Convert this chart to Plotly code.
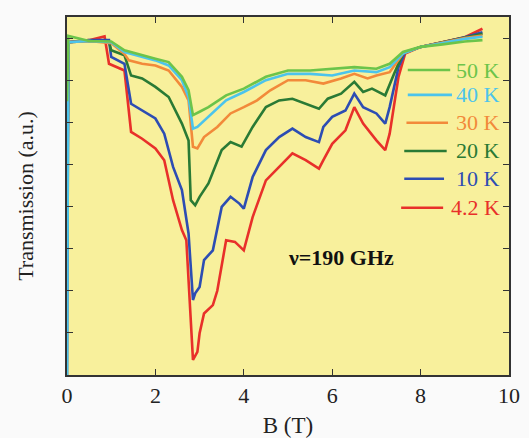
import plotly.graph_objects as go

# ---- data ----
x_42 = [0, 0.03, 0.5, 0.85, 0.95, 1.3, 1.45, 1.7, 2.0, 2.2, 2.4, 2.6, 2.7, 2.8, 2.85, 2.95, 3.0, 3.1, 3.3, 3.4, 3.6, 3.8, 4.0, 4.2, 4.5, 4.8, 5.1, 5.4, 5.7, 5.8, 6.0, 6.3, 6.5, 6.7, 7.0, 7.2, 7.3, 7.5, 7.65, 8.0, 8.5, 9.0, 9.4]
y_42 = [2.5, 7.9, 7.95, 8.04, 7.39, 7.23, 5.77, 5.61, 5.38, 5.1, 4.15, 3.44, 3.2, 1.38, 0.36, 0.55, 0.99, 1.46, 1.66, 2.0, 3.2, 3.16, 2.96, 3.75, 4.62, 4.94, 5.26, 5.1, 4.9, 5.1, 5.49, 5.81, 6.36, 5.97, 5.57, 5.34, 5.73, 7.08, 7.63, 7.79, 7.9, 8.02, 8.22]

x_10 = [0, 0.03, 0.5, 0.95, 1.0, 1.3, 1.45, 1.7, 2.0, 2.2, 2.4, 2.6, 2.75, 2.85, 2.9, 3.0, 3.1, 3.3, 3.5, 3.7, 3.9, 4.0, 4.2, 4.5, 4.8, 5.1, 5.4, 5.7, 5.8, 6.0, 6.3, 6.5, 6.7, 7.0, 7.2, 7.3, 7.5, 7.65, 8.0, 8.5, 9.0, 9.4]
y_10 = [0.0, 7.9, 7.95, 7.95, 7.55, 7.39, 6.44, 6.28, 6.09, 5.73, 4.94, 4.39, 3.36, 1.78, 1.94, 2.09, 2.73, 2.96, 3.99, 4.23, 4.07, 3.95, 4.70, 5.34, 5.65, 5.85, 5.65, 5.53, 5.89, 6.13, 6.28, 6.68, 6.36, 6.21, 5.97, 6.36, 7.31, 7.67, 7.79, 7.9, 8.02, 8.14]

x_20 = [0, 0.03, 0.5, 0.95, 1.0, 1.3, 1.45, 1.7, 2.0, 2.3, 2.6, 2.75, 2.8, 2.9, 3.0, 3.2, 3.5, 3.7, 3.95, 4.2, 4.5, 4.8, 5.1, 5.4, 5.7, 5.9, 6.2, 6.5, 6.7, 6.9, 7.2, 7.4, 7.6, 8.0, 8.5, 9.0, 9.4]
y_20 = [3.0, 7.9, 7.93, 7.92, 7.71, 7.59, 7.11, 7.04, 6.84, 6.6, 5.97, 5.57, 4.15, 4.03, 4.23, 4.55, 5.34, 5.53, 5.42, 5.89, 6.36, 6.52, 6.56, 6.44, 6.32, 6.56, 6.68, 6.96, 6.72, 6.8, 6.64, 7.15, 7.63, 7.79, 7.9, 8.0, 8.1]

x_30 = [0, 0.03, 0.5, 1.0, 1.3, 1.4, 1.7, 2.0, 2.3, 2.6, 2.75, 2.85, 2.95, 3.1, 3.4, 3.7, 4.0, 4.3, 4.6, 5.0, 5.4, 5.8, 6.2, 6.5, 6.8, 7.0, 7.3, 7.6, 8.0, 8.5, 9.0, 9.4]
y_30 = [5.0, 7.9, 7.93, 7.88, 7.62, 7.47, 7.39, 7.35, 7.23, 6.84, 6.52, 5.42, 5.38, 5.65, 5.89, 6.21, 6.36, 6.52, 6.76, 7.0, 7.0, 6.92, 7.04, 7.15, 7.04, 7.11, 7.19, 7.63, 7.79, 7.9, 8.0, 8.06]

x_40 = [0, 0.03, 0.5, 1.0, 1.3, 1.7, 2.0, 2.3, 2.6, 2.75, 2.85, 2.95, 3.2, 3.6, 4.0, 4.5, 5.0, 5.5, 6.0, 6.5, 7.0, 7.3, 7.6, 8.0, 8.5, 9.0, 9.4]
y_40 = [0.0, 7.9, 7.93, 7.9, 7.67, 7.55, 7.47, 7.35, 7.0, 6.6, 5.85, 5.89, 6.13, 6.52, 6.72, 7.0, 7.15, 7.15, 7.11, 7.23, 7.19, 7.31, 7.63, 7.79, 7.88, 7.98, 8.03]

x_50 = [0, 0.03, 0.5, 1.0, 1.3, 1.7, 2.0, 2.3, 2.6, 2.75, 2.85, 3.0, 3.2, 3.6, 4.0, 4.5, 5.0, 5.5, 6.0, 6.5, 7.0, 7.3, 7.6, 8.0, 8.5, 9.0, 9.4]
y_50 = [6.5, 8.05, 7.93, 7.92, 7.71, 7.59, 7.51, 7.43, 7.08, 6.76, 6.17, 6.25, 6.36, 6.64, 6.8, 7.08, 7.23, 7.23, 7.27, 7.31, 7.27, 7.39, 7.67, 7.79, 7.85, 7.92, 7.95]

labels = ["4.2 K", "10 K", "20 K", "30 K", "40 K", "50 K"]
colors = ["#e8302a", "#2d4db3", "#2a7a35", "#f28a3a", "#4cc4ec", "#6cc44a"]
series_x = [x_42, x_10, x_20, x_30, x_40, x_50]
series_y = [y_42, y_10, y_20, y_30, y_40, y_50]

x_ticks = [0, 2, 4, 6, 8, 10]
y_ticks = [0, 1, 2, 3, 4, 5, 6, 7, 8]

# legend key layout (data coords): label y-position
legend_y = [3.97, 4.66, 5.32, 5.99, 6.65, 7.24]
legend_x0 = [7.56, 7.63, 7.63, 7.68, 7.71, 7.71]
legend_x1 = [8.51, 8.53, 8.59, 8.62, 8.71, 8.67]

serif = "'Liberation Serif', 'Times New Roman', Times, serif"

fig = go.Figure()
for xs, ys, c, lab in zip(series_x, series_y, colors, labels):
    fig.add_trace(go.Scatter(x=xs, y=ys, mode="lines", name=lab,
                             line=dict(color=c, width=2.6), showlegend=False))

for lab, c, ly, lx0, lx1 in zip(labels, colors, legend_y, legend_x0, legend_x1):
    fig.add_shape(type="line", x0=lx0, x1=lx1, y0=ly, y1=ly, xref="x", yref="y",
                  line=dict(color=c, width=2.6))
    fig.add_annotation(x=9.84, y=ly, xref="x", yref="y", text=lab, showarrow=False,
                       xanchor="right", yanchor="middle",
                       font=dict(family=serif, size=22, color=c))

fig.add_annotation(x=6.2, y=2.8, xref="x", yref="y", text="<b>ν=190 GHz</b>",
                   showarrow=False, xanchor="center", yanchor="middle",
                   font=dict(family=serif, size=22, color="#111111"))

axis_common = dict(showline=True, linecolor="#333333", linewidth=1.5, mirror="ticks",
                   ticks="inside", ticklen=6, tickwidth=1.2, tickcolor="#333333",
                   showgrid=False, zeroline=False, automargin=False)

fig.update_layout(
    width=529, height=438,
    margin=dict(l=67, r=20, t=17, b=63),
    paper_bgcolor="#fafafa",
    plot_bgcolor="#f8f09c",
    xaxis=dict(range=[0, 10], tickvals=x_ticks, ticktext=[str(v) for v in x_ticks],
               tickfont=dict(family=serif, size=22, color="#222222"),
               title=dict(text="B (T)", font=dict(family=serif, size=23, color="#222222"), standoff=18),
               **axis_common),
    yaxis=dict(range=[0, 8.5], tickvals=y_ticks, showticklabels=False,
               title=dict(text="Transmission (a.u.)", font=dict(family=serif, size=22, color="#222222"), standoff=26),
               **axis_common),
)

fig.write_html("out.html")
